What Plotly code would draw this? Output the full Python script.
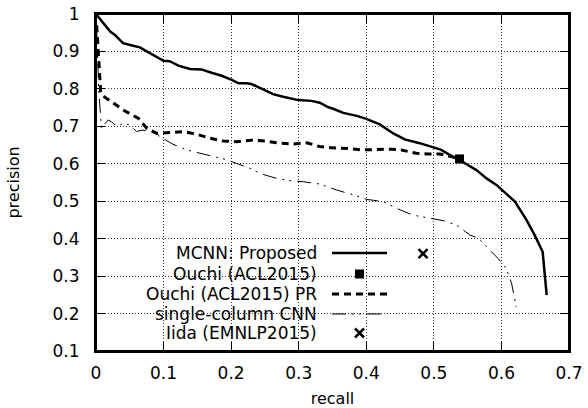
import plotly.graph_objects as go

# ---- data ----
mcnn_recall = [0, 0.021, 0.028, 0.040, 0.055, 0.065, 0.077, 0.100, 0.109, 0.122, 0.139, 0.156, 0.171, 0.186,
               0.201, 0.211, 0.223, 0.230, 0.245, 0.262, 0.277, 0.299, 0.319, 0.331, 0.344, 0.351, 0.366, 0.386,
               0.400, 0.420, 0.440, 0.457, 0.479, 0.511, 0.524, 0.538, 0.563, 0.578, 0.593, 0.607, 0.620, 0.637,
               0.649, 0.661, 0.667]
mcnn_precision = [1.0, 0.953, 0.944, 0.922, 0.915, 0.911, 0.898, 0.875, 0.874, 0.862, 0.853, 0.852, 0.843, 0.835,
                  0.824, 0.815, 0.815, 0.813, 0.801, 0.786, 0.779, 0.770, 0.768, 0.763, 0.751, 0.747, 0.736, 0.728,
                  0.720, 0.705, 0.681, 0.665, 0.655, 0.637, 0.623, 0.610, 0.583, 0.561, 0.543, 0.521, 0.499, 0.450,
                  0.410, 0.365, 0.249]

ouchi_pr_recall = [0.001, 0.004, 0.007, 0.013, 0.021, 0.040, 0.063, 0.075, 0.090, 0.109, 0.129, 0.149, 0.169,
                   0.188, 0.208, 0.230, 0.250, 0.272, 0.292, 0.312, 0.331, 0.354, 0.373, 0.393, 0.415, 0.437,
                   0.452, 0.474, 0.492, 0.509, 0.526, 0.538]
ouchi_pr_precision = [0.97, 0.88, 0.79, 0.778, 0.768, 0.744, 0.721, 0.695, 0.681, 0.683, 0.686, 0.679, 0.668,
                      0.661, 0.659, 0.663, 0.661, 0.655, 0.653, 0.656, 0.646, 0.642, 0.641, 0.637, 0.639, 0.639,
                      0.637, 0.628, 0.626, 0.626, 0.619, 0.613]

scnn_recall = [0.001, 0.004, 0.008, 0.018, 0.023, 0.031, 0.040, 0.050, 0.060, 0.068, 0.082, 0.100, 0.114, 0.134,
               0.156, 0.171, 0.193, 0.208, 0.228, 0.243, 0.267, 0.287, 0.307, 0.331, 0.356, 0.381, 0.400, 0.425,
               0.450, 0.469, 0.499, 0.514, 0.534, 0.553, 0.566, 0.578, 0.595, 0.607, 0.615, 0.622]
scnn_precision = [0.96, 0.80, 0.695, 0.717, 0.712, 0.699, 0.708, 0.704, 0.686, 0.690, 0.686, 0.668, 0.652, 0.637,
                  0.627, 0.622, 0.611, 0.601, 0.588, 0.574, 0.561, 0.555, 0.552, 0.546, 0.530, 0.517, 0.505, 0.499,
                  0.477, 0.463, 0.454, 0.448, 0.436, 0.410, 0.401, 0.378, 0.347, 0.321, 0.281, 0.218]

ouchi_recall = [0.538]
ouchi_precision = [0.613]
iida_recall = [0.484]
iida_precision = [0.36]

legend_labels = ["MCNN: Proposed", "Ouchi (ACL2015)", "Ouchi (ACL2015) PR", "single-column CNN", "Iida (EMNLP2015)"]

# ---- layout geometry (window pixels; body margin removed on load) ----
FONT = "DejaVu Sans"
W, H = 588, 408
PL, PR, PT, PB = 96, 569, 14, 351          # plot box in window pixels
ML, MT = PL, PT
MR, MB = W - PR, H - PB
PW, PH = PR - PL, PB - PT

def px_x(px):
    return (px - PL) / PW

def px_y(py):
    return (PB - py) / PH

solid = dict(color="black", width=2.5)
dashed = dict(color="black", width=3, dash="7px,5px")
dashdot = dict(color="black", width=1, dash="14px,6px,2px,5px,2px,6px")

fig = go.Figure()
fig.add_trace(go.Scatter(x=mcnn_recall, y=mcnn_precision, mode="lines", line=solid, showlegend=False))
fig.add_trace(go.Scatter(x=ouchi_pr_recall, y=ouchi_pr_precision, mode="lines", line=dashed, showlegend=False))
fig.add_trace(go.Scatter(x=scnn_recall, y=scnn_precision, mode="lines", line=dashdot, showlegend=False))
fig.add_trace(go.Scatter(x=ouchi_recall, y=ouchi_precision, mode="markers",
                         marker=dict(symbol="square", size=9, color="black"), showlegend=False))
fig.add_trace(go.Scatter(x=iida_recall, y=iida_precision, mode="markers",
                         marker=dict(symbol="x-thin", size=9, line=dict(color="black", width=2.5)),
                         showlegend=False))

# ---- manual gnuplot-style key (text right, sample on the right) ----
row_y = [253, 274, 294, 314, 333]
text_right = 318
s0, s1 = 332, 387
for lab, ry in zip(legend_labels, row_y):
    fig.add_annotation(xref="paper", yref="paper", x=px_x(text_right), y=px_y(ry),
                       xanchor="right", yanchor="middle", text=lab, showarrow=False,
                       font=dict(family=FONT, size=17, color="black"), borderpad=0)

sample_styles = [("line", solid), ("square", None), ("line", dashed), ("line", dashdot), ("x", None)]
for (kind, st), ry in zip(sample_styles, row_y):
    yy = px_y(ry)
    if kind == "line":
        fig.add_trace(go.Scatter(x=[px_x(s0), px_x(s1)], y=[yy, yy], mode="lines", line=st,
                                 xaxis="x2", yaxis="y2", showlegend=False, hoverinfo="skip"))
    elif kind == "square":
        fig.add_trace(go.Scatter(x=[px_x((s0 + s1) / 2)], y=[yy], mode="markers",
                                 marker=dict(symbol="square", size=9, color="black"),
                                 xaxis="x2", yaxis="y2", showlegend=False, hoverinfo="skip"))
    else:
        fig.add_trace(go.Scatter(x=[px_x((s0 + s1) / 2)], y=[yy], mode="markers",
                                 marker=dict(symbol="x-thin", size=9, line=dict(color="black", width=2.5)),
                                 xaxis="x2", yaxis="y2", showlegend=False, hoverinfo="skip"))

# opaque key box hiding the grid
fig.add_shape(type="rect", xref="paper", yref="paper", x0=0, x1=px_x(396), y0=0, y1=px_y(242),
              fillcolor="white", line=dict(width=0), layer="between")
# plot frame
fig.add_shape(type="rect", xref="paper", yref="paper", x0=0, x1=1, y0=0, y1=1,
              line=dict(color="black", width=2), fillcolor="rgba(0,0,0,0)", layer="above")

axis_common = dict(showline=True, linecolor="black", linewidth=2, mirror="allticks",
                   ticks="inside", ticklen=9, tickwidth=1.2, tickcolor="black",
                   showgrid=True, gridcolor="#333333", gridwidth=1, griddash="1px,2px",
                   zeroline=False, automargin=False, ticklabeloverflow="allow",
                   tickfont=dict(family=FONT, size=17, color="black"))

fig.update_layout(
    width=W, height=H,
    margin=dict(l=ML, r=MR, t=MT, b=MB),
    paper_bgcolor="white", plot_bgcolor="white",
    xaxis=dict(range=[0, 0.7], tick0=0, dtick=0.1, ticklabelstandoff=6,
               title=dict(text="recall", font=dict(family=FONT, size=16, color="black"), standoff=11),
               **axis_common),
    yaxis=dict(range=[0.1, 1], tick0=0.1, dtick=0.1, ticklabelstandoff=11,
               title=dict(text="precision", font=dict(family=FONT, size=16, color="black"), standoff=29),
               **axis_common),
    xaxis2=dict(overlaying="x", range=[0, 1], visible=False, fixedrange=True),
    yaxis2=dict(overlaying="y", range=[0, 1], visible=False, fixedrange=True),
    showlegend=False,
)

fig.write_html("out.html", config={"displayModeBar": False},
               post_script="document.body.style.margin='0px';document.body.style.overflow='hidden';")
